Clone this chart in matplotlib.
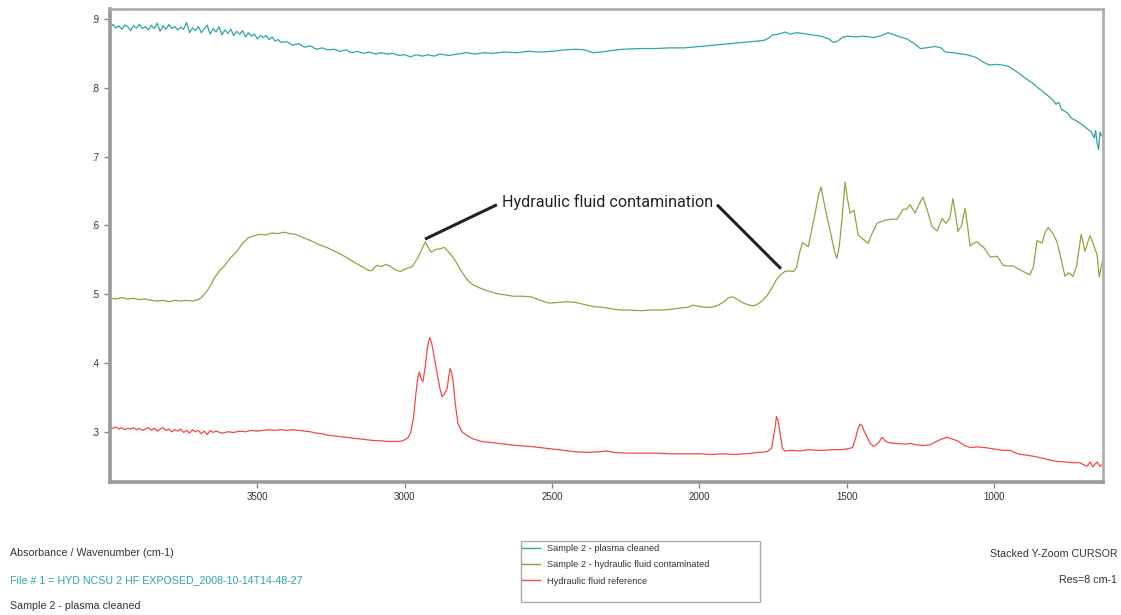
import matplotlib.pyplot as plt
from matplotlib.ticker import FuncFormatter
from matplotlib.lines import Line2D
from matplotlib.patches import Rectangle

# spectra (wavenumber cm-1, absorbance)
plasma_wn = [4000, 3990, 3980, 3970, 3960, 3950, 3940, 3930, 3920, 3910, 3900, 3890, 3880, 3870,
             3860, 3850, 3840, 3830, 3820, 3810, 3800, 3790, 3780, 3770, 3760, 3750, 3740, 3730,
             3720, 3710, 3700, 3690, 3680, 3670, 3660, 3650, 3640, 3630, 3620, 3610, 3600, 3590,
             3580, 3570, 3560, 3550, 3540, 3530, 3520, 3510, 3500, 3490, 3480, 3470, 3460, 3450,
             3440, 3430, 3420, 3400, 3380, 3360, 3340, 3320, 3300, 3280, 3260, 3240, 3220, 3200,
             3180, 3160, 3140, 3120, 3100, 3080, 3060, 3040, 3020, 3000, 2980, 2960, 2940, 2920,
             2900, 2880, 2850, 2820, 2790, 2760, 2730, 2700, 2660, 2620, 2580, 2540, 2500, 2460,
             2420, 2390, 2360, 2330, 2300, 2260, 2200, 2150, 2100, 2050, 2000, 1950, 1900, 1850,
             1800, 1780, 1765, 1750, 1730, 1710, 1690, 1670, 1650, 1620, 1600, 1580, 1560, 1545,
             1530, 1515, 1500, 1470, 1440, 1410, 1380, 1360, 1340, 1320, 1295, 1270, 1250, 1230,
             1200, 1180, 1165, 1140, 1110, 1090, 1060, 1040, 1015, 990, 970, 950, 925, 900, 870,
             850, 830, 810, 800, 790, 780, 770, 760, 750, 740, 730, 720, 710, 700, 690, 680, 670,
             660, 655, 650, 645, 640, 635, 630]
plasma_abs = [0.886, 0.892, 0.887, 0.890, 0.885, 0.891, 0.889, 0.883, 0.890, 0.887, 0.892, 0.886,
              0.889, 0.884, 0.891, 0.886, 0.894, 0.882, 0.890, 0.885, 0.892, 0.886, 0.889, 0.884,
              0.888, 0.885, 0.895, 0.880, 0.887, 0.883, 0.889, 0.880, 0.886, 0.891, 0.878, 0.886,
              0.881, 0.889, 0.877, 0.884, 0.879, 0.885, 0.876, 0.882, 0.878, 0.883, 0.874, 0.880,
              0.875, 0.878, 0.871, 0.876, 0.873, 0.876, 0.870, 0.874, 0.868, 0.870, 0.866, 0.867,
              0.862, 0.864, 0.859, 0.861, 0.856, 0.858, 0.855, 0.856, 0.853, 0.855, 0.851, 0.853,
              0.850, 0.852, 0.849, 0.851, 0.849, 0.850, 0.847, 0.848, 0.845, 0.848, 0.846, 0.848,
              0.846, 0.849, 0.847, 0.849, 0.851, 0.849, 0.851, 0.850, 0.852, 0.851, 0.853, 0.852,
              0.853, 0.855, 0.856, 0.855, 0.851, 0.852, 0.854, 0.856, 0.857, 0.857, 0.858, 0.858,
              0.860, 0.862, 0.864, 0.866, 0.868, 0.869, 0.872, 0.877, 0.878, 0.881, 0.878, 0.880,
              0.879, 0.877, 0.876, 0.874, 0.871, 0.866, 0.868, 0.873, 0.875, 0.874, 0.875, 0.873,
              0.876, 0.880, 0.877, 0.874, 0.871, 0.864, 0.857, 0.858, 0.860, 0.858, 0.852, 0.851,
              0.849, 0.848, 0.844, 0.838, 0.833, 0.834, 0.833, 0.831, 0.824, 0.816, 0.807, 0.800,
              0.793, 0.786, 0.782, 0.776, 0.779, 0.768, 0.766, 0.763, 0.757, 0.754, 0.752, 0.749,
              0.746, 0.743, 0.739, 0.736, 0.727, 0.738, 0.720, 0.710, 0.736, 0.730, 0.732]

contam_wn = [4000, 3980, 3960, 3940, 3920, 3900, 3880, 3860, 3840, 3820, 3800, 3780, 3760, 3740,
             3720, 3700, 3690, 3675, 3660, 3645, 3630, 3610, 3590, 3570, 3550, 3530, 3510, 3490,
             3470, 3450, 3430, 3410, 3390, 3370, 3350, 3320, 3290, 3260, 3230, 3200, 3170, 3140,
             3120, 3110, 3095, 3080, 3065, 3050, 3035, 3015, 2995, 2975, 2955, 2940, 2930, 2920,
             2910, 2895, 2880, 2865, 2850, 2830, 2810, 2790, 2770, 2745, 2720, 2690, 2660, 2630,
             2600, 2570, 2540, 2510, 2480, 2450, 2420, 2390, 2360, 2330, 2300, 2270, 2240, 2200,
             2160, 2120, 2080, 2040, 2020, 2000, 1980, 1960, 1940, 1920, 1900, 1885, 1870, 1850,
             1830, 1815, 1800, 1785, 1770, 1755, 1740, 1725, 1710, 1695, 1680, 1670, 1660, 1650,
             1640, 1630, 1620, 1605, 1595, 1587, 1580, 1567, 1555, 1540, 1533, 1525, 1516, 1510,
             1505, 1498, 1488, 1475, 1461, 1445, 1427, 1412, 1397, 1380, 1363, 1345, 1329, 1309,
             1295, 1285, 1268, 1255, 1241, 1225, 1210, 1193, 1176, 1163, 1150, 1139, 1130, 1122,
             1110, 1098, 1090, 1081, 1070, 1057, 1045, 1037, 1025, 1013, 989, 969, 950, 935, 918,
             901, 878, 866, 854, 845, 837, 826, 816, 800, 786, 775, 759, 748, 742, 732, 720, 704,
             695, 691, 682, 674, 662, 650, 643, 636, 630]
contam_abs = [0.494, 0.493, 0.495, 0.493, 0.494, 0.492, 0.493, 0.491, 0.490, 0.491, 0.489, 0.491,
              0.490, 0.491, 0.490, 0.492, 0.495, 0.502, 0.512, 0.524, 0.533, 0.542, 0.553, 0.562,
              0.574, 0.582, 0.585, 0.587, 0.586, 0.589, 0.588, 0.590, 0.588, 0.587, 0.583, 0.578,
              0.572, 0.567, 0.561, 0.554, 0.546, 0.539, 0.534, 0.535, 0.542, 0.540, 0.543, 0.541,
              0.536, 0.533, 0.537, 0.540, 0.553, 0.567, 0.576, 0.568, 0.561, 0.565, 0.566, 0.568,
              0.561, 0.550, 0.535, 0.522, 0.514, 0.509, 0.505, 0.501, 0.499, 0.497, 0.497, 0.496,
              0.491, 0.487, 0.488, 0.489, 0.488, 0.485, 0.482, 0.481, 0.479, 0.477, 0.477, 0.476,
              0.477, 0.477, 0.479, 0.481, 0.484, 0.482, 0.481, 0.481, 0.483, 0.488, 0.495, 0.496,
              0.492, 0.487, 0.484, 0.483, 0.486, 0.491, 0.498, 0.508, 0.520, 0.528, 0.533, 0.534,
              0.533, 0.539, 0.560, 0.575, 0.572, 0.569, 0.590, 0.622, 0.645, 0.656, 0.640, 0.613,
              0.590, 0.560, 0.552, 0.570, 0.608, 0.640, 0.663, 0.640, 0.618, 0.622, 0.586, 0.580,
              0.574, 0.590, 0.603, 0.606, 0.608, 0.609, 0.609, 0.623, 0.624, 0.630, 0.618, 0.630,
              0.641, 0.620, 0.598, 0.592, 0.610, 0.603, 0.610, 0.639, 0.615, 0.591, 0.600, 0.625,
              0.600, 0.570, 0.574, 0.576, 0.571, 0.569, 0.562, 0.554, 0.555, 0.542, 0.541, 0.541,
              0.537, 0.533, 0.528, 0.540, 0.578, 0.576, 0.574, 0.590, 0.597, 0.588, 0.576, 0.556,
              0.526, 0.531, 0.530, 0.526, 0.540, 0.587, 0.570, 0.562, 0.575, 0.585, 0.572, 0.557,
              0.525, 0.540, 0.552]

ref_wn = [4000, 3990, 3980, 3970, 3960, 3950, 3940, 3930, 3920, 3910, 3900, 3890, 3880, 3870,
          3860, 3850, 3840, 3830, 3820, 3810, 3800, 3790, 3780, 3770, 3760, 3750, 3740, 3730,
          3720, 3710, 3700, 3690, 3680, 3670, 3660, 3650, 3640, 3620, 3600, 3580, 3560, 3540,
          3520, 3500, 3480, 3460, 3440, 3420, 3400, 3380, 3360, 3340, 3320, 3300, 3280, 3260,
          3240, 3220, 3200, 3180, 3160, 3140, 3120, 3100, 3080, 3060, 3040, 3020, 3005, 2990,
          2980, 2970, 2962, 2955, 2950, 2945, 2938, 2930, 2922, 2915, 2908, 2900, 2890, 2880,
          2873, 2865, 2856, 2850, 2846, 2840, 2836, 2828, 2819, 2805, 2790, 2770, 2740, 2700,
          2660, 2620, 2580, 2540, 2500, 2460, 2420, 2380, 2340, 2313, 2290, 2250, 2200, 2150,
          2100, 2050, 2000, 1960, 1920, 1880, 1840, 1800, 1770, 1755, 1745, 1738, 1732, 1725,
          1718, 1710, 1690, 1660, 1630, 1600, 1580, 1550, 1520, 1500, 1480, 1470, 1462, 1455,
          1448, 1440, 1430, 1420, 1410, 1400, 1390, 1380, 1370, 1355, 1330, 1300, 1285, 1260,
          1240, 1217, 1200, 1180, 1160, 1145, 1125, 1100, 1080, 1057, 1030, 1000, 970, 945, 920,
          890, 860, 830, 800, 786, 760, 730, 708, 695, 684, 674, 664, 657, 650, 640, 630]
ref_abs = [0.306, 0.305, 0.307, 0.304, 0.306, 0.303, 0.305, 0.304, 0.306, 0.303, 0.305, 0.302,
           0.304, 0.306, 0.302, 0.305, 0.301, 0.304, 0.306, 0.302, 0.304, 0.300, 0.303, 0.301,
           0.304, 0.299, 0.302, 0.298, 0.303, 0.300, 0.302, 0.297, 0.301, 0.296, 0.302, 0.299,
           0.301, 0.298, 0.300, 0.299, 0.301, 0.300, 0.302, 0.301, 0.302, 0.303, 0.302, 0.303,
           0.302, 0.303, 0.302, 0.301, 0.300, 0.298, 0.297, 0.295, 0.294, 0.293, 0.292, 0.291,
           0.290, 0.289, 0.288, 0.287, 0.287, 0.286, 0.286, 0.286, 0.287, 0.291, 0.298, 0.320,
           0.355, 0.380, 0.387, 0.378, 0.373, 0.395, 0.425, 0.437, 0.428, 0.410, 0.385, 0.362,
           0.351, 0.355, 0.363, 0.380, 0.392, 0.385, 0.375, 0.340, 0.312, 0.300, 0.295, 0.290,
           0.286, 0.284, 0.282, 0.280, 0.279, 0.277, 0.275, 0.273, 0.271, 0.270, 0.271, 0.272,
           0.270, 0.269, 0.269, 0.269, 0.268, 0.268, 0.268, 0.267, 0.268, 0.267, 0.268, 0.270,
           0.271, 0.276, 0.300, 0.322, 0.315, 0.295, 0.276, 0.272, 0.273, 0.272, 0.274, 0.273,
           0.273, 0.274, 0.274, 0.275, 0.277, 0.290, 0.304, 0.311, 0.309, 0.300, 0.292, 0.283,
           0.279, 0.281, 0.285, 0.292, 0.287, 0.284, 0.283, 0.282, 0.283, 0.281, 0.280, 0.281,
           0.285, 0.289, 0.292, 0.290, 0.287, 0.280, 0.277, 0.278, 0.277, 0.275, 0.273, 0.273,
           0.268, 0.266, 0.264, 0.261, 0.258, 0.257, 0.256, 0.255, 0.255, 0.252, 0.250, 0.256,
           0.249, 0.253, 0.256, 0.250, 0.253]

series_labels = ["Sample 2 - plasma cleaned",
                 "Sample 2 - hydraulic fluid contaminated",
                 "Hydraulic fluid reference"]
x_ticks = [3500, 3000, 2500, 2000, 1500, 1000]
y_ticks = [0.3, 0.4, 0.5, 0.6, 0.7, 0.8, 0.9]

TEAL = "#2fa5a5"
OLIVE = "#9d9d45"
RED = "#f24848"
TXT = "#333333"

plt.rcParams['font.family'] = ['Liberation Sans', 'DejaVu Sans']

W, H = 1121, 615
fig = plt.figure(figsize=(W / 100, H / 100), dpi=100)
ax = fig.add_axes([110 / W, 133 / H, 993 / W, 473 / H])

ax.plot(plasma_wn, plasma_abs, color=TEAL, lw=0.9)
ax.plot(contam_wn, contam_abs, color=OLIVE, lw=0.9)
ax.plot(ref_wn, ref_abs, color=RED, lw=0.9)

ax.set_xlim(4000, 630)
ax.set_ylim(0.227, 0.9145)
ax.set_xticks(x_ticks)
ax.set_yticks(y_ticks)
ax.yaxis.set_major_formatter(FuncFormatter(lambda v, p: ("%.1f" % v)[1:]))
ax.tick_params(axis='both', labelsize=7, colors="#888888", labelcolor=TXT, length=4, width=1)
for side in ["left", "bottom"]:
    ax.spines[side].set_linewidth(2.6)
    ax.spines[side].set_color("#9a9a9a")
for side in ["top", "right"]:
    ax.spines[side].set_linewidth(2)
    ax.spines[side].set_color("#b0b0b0")

# annotation with two leader lines
ax.text(2310, 0.634, "Hydraulic fluid contamination", ha='center', va='center',
        fontsize=11.6, color="#222222", family='Roboto')
ax.plot([2931, 2687], [0.580, 0.630], color="#222222", lw=2.2, solid_capstyle='butt')
ax.plot([1940, 1723], [0.630, 0.537], color="#222222", lw=2.2, solid_capstyle='butt')

# footer texts
fig.text(10 / W, 1 - 553 / H, "Absorbance / Wavenumber (cm-1)", fontsize=7.7,
         color=TXT, va='center')
fig.text(10 / W, 1 - 580 / H, "File # 1 = HYD NCSU 2 HF EXPOSED_2008-10-14T14-48-27",
         fontsize=7.7, color=TEAL, va='center')
fig.text(10 / W, 1 - 606 / H, "Sample 2 - plasma cleaned", fontsize=7.7,
         color=TXT, va='center')
fig.text(1117 / W, 1 - 554 / H, "Stacked Y-Zoom CURSOR", fontsize=7.7,
         color=TXT, va='center', ha='right')
fig.text(1117 / W, 1 - 580 / H, "Res=8 cm-1", fontsize=7.7,
         color=TXT, va='center', ha='right')

# legend box drawn separately so it keeps the empty space at the bottom
fig.patches.append(Rectangle((521 / W, 1 - 602 / H), 239 / W, 61 / H,
                             transform=fig.transFigure, fill=False,
                             edgecolor="#aaaaaa", lw=1))
handles = [Line2D([], [], color=c, lw=1) for c in (TEAL, OLIVE, RED)]
leg = fig.legend(handles, series_labels, loc='upper left',
                 bbox_to_anchor=(522 / W, 1 - 544 / H), fontsize=6.7,
                 frameon=False, handlelength=1.9, handletextpad=0.8,
                 labelspacing=0.78, borderpad=0, borderaxespad=0)
for t in leg.get_texts():
    t.set_color(TXT)

fig.savefig("out.png", dpi=100)
